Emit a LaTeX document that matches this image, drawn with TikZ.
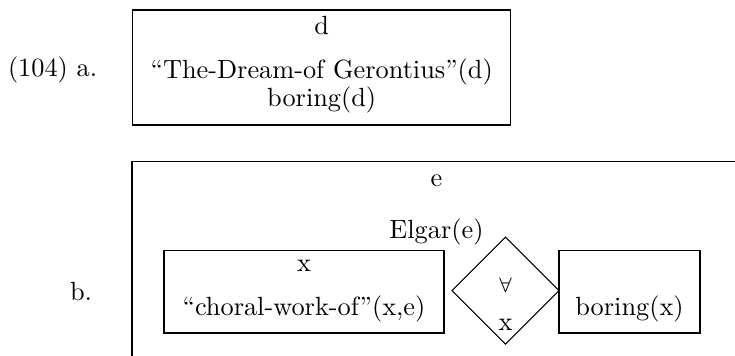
\documentclass[tikz,border=0pt]{standalone}
\usetikzlibrary{shapes.geometric}
\begin{document}
\begin{tikzpicture}[x=0.38pt,y=-0.38pt,
  drsbox/.style={draw, line width=0.4pt, inner sep=0pt, outer sep=0pt},
  txt/.style={anchor=base, inner sep=0pt, outer sep=0pt},
  lbl/.style={anchor=base west, inner sep=0pt, outer sep=0pt},
  quant/.style={draw, diamond, aspect=1, inner sep=0pt, outer sep=0pt, line width=0.4pt}]
\useasboundingbox (0,0) rectangle (735,355);
\clip (0,0) rectangle (735,355);
% (104) a.
\node[lbl] (la) at (8,76) {(104) a.};
\node[drsbox, minimum width=143.64pt, minimum height=43.7pt] (boxa) at (321.7,67.5) {};
\node[txt] (da) at (321.7,34) {d};
\node[txt] (dream) at (321.7,78) {``The-Dream-of Gerontius''(d)};
\node[txt] (bord) at (321.7,106) {boring(d)};
% b.
\node[lbl] (lb) at (70,300) {b.};
\node[drsbox, minimum width=231.42pt, minimum height=114pt] (boxb) at (436.5,311.7) {};
\node[txt] (eb) at (436.5,186) {e};
\node[txt] (elgar) at (436.5,238) {Elgar(e)};
% antecedent box
\node[drsbox, minimum width=106.4pt, minimum height=31.27pt] (ante) at (304,291.85) {};
\node[txt] (xa) at (304,271) {x};
\node[txt] (choral) at (304,315) {``choral-work-of''(x,e)};
% quantifier diamond
\node[quant, minimum width=40.66pt, minimum height=40.66pt] (dia) at (505.5,290.7) {};
\node[txt] (fa) at (505.5,292) {\footnotesize$\forall$};
\node[txt] (xq) at (505.5,330) {x};
% consequent box
\node[drsbox, minimum width=53.58pt, minimum height=31.27pt] (cons) at (629.5,291.85) {};
\node[txt] (borx) at (629.5,315) {boring(x)};
\end{tikzpicture}
\end{document}
